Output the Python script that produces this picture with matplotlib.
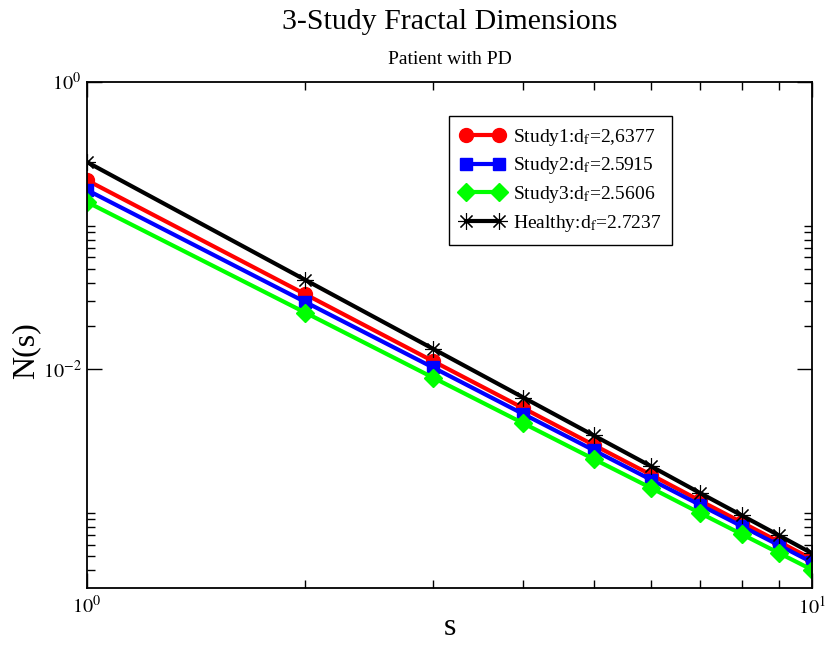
import matplotlib
matplotlib.use("Agg")
import matplotlib.pyplot as plt
from matplotlib.ticker import FixedLocator, NullFormatter

plt.rcParams['font.family'] = ['Liberation Serif', 'DejaVu Serif']
plt.rcParams['mathtext.fontset'] = 'stix'

# box size s and counts N(s)
s = [1, 2, 3, 4, 5, 6, 7, 8, 9, 10]
study1 = [0.207, 0.0333, 0.0114, 0.00535, 0.00297, 0.00184, 0.00122, 0.000859, 0.00063, 0.000477]
study2 = [0.177, 0.0294, 0.0103, 0.00487, 0.00273, 0.00170, 0.00114, 0.000808, 0.000596, 0.000453]
study3 = [0.146, 0.0248, 0.00876, 0.00420, 0.00237, 0.00149, 0.00100, 0.000711, 0.000526, 0.000402]
healthy = [0.277, 0.0419, 0.0139, 0.00635, 0.00346, 0.00211, 0.00138, 0.000961, 0.000698, 0.000523]

labels = [r"Study1:d$_{\mathrm{f}}$=2,6377",
          r"Study2:d$_{\mathrm{f}}$=2.5915",
          r"Study3:d$_{\mathrm{f}}$=2.5606",
          r"Healthy:d$_{\mathrm{f}}$=2.7237"]

fig = plt.figure(figsize=(8.25, 6.45), dpi=100)
ax = fig.add_axes([87/825, 1-588/645, (812-87)/825, (588-82)/645])

ax.plot(s, study1, color='#ff0000', lw=3, marker='o', ms=10, label=labels[0])
ax.plot(s, study2, color='#0000ff', lw=3, marker='s', ms=9, label=labels[1])
ax.plot(s, study3, color='#00ff00', lw=3, marker='D', ms=9, label=labels[2])
ax.plot(s, healthy, color='black', lw=3, marker=(8, 2, 0), ms=12, mew=0.8, label=labels[3])

ax.set_xscale('log')
ax.set_yscale('log')
ax.set_xlim(1, 10)
ax.set_ylim(3e-4, 1)

# ticks in the style of the original
ax.xaxis.set_major_locator(FixedLocator([1, 10]))
ax.xaxis.set_minor_locator(FixedLocator([2, 3, 4, 5, 6, 7, 8, 9]))
ax.set_xticklabels([r"$10^{0}$", r"$10^{1}$"])
ax.yaxis.set_major_locator(FixedLocator([1e-2, 1]))
ax.set_yticklabels([r"$10^{-2}$", r"$10^{0}$"])
yminor = [k * 1e-2 for k in range(2, 11)] + [k * 1e-4 for k in range(4, 11)]
ax.yaxis.set_minor_locator(FixedLocator(yminor))
ax.xaxis.set_minor_formatter(NullFormatter())
ax.yaxis.set_minor_formatter(NullFormatter())

ax.tick_params(which='both', direction='in', top=True, right=True, labelsize=14.5, width=1)
ax.tick_params(which='major', length=11)
ax.tick_params(axis='y', which='major', pad=4)
ax.tick_params(axis='x', which='major', pad=6)
ax.tick_params(which='minor', length=6)
for sp in ax.spines.values():
    sp.set_linewidth(1.3)

ax.set_xlabel("s", fontsize=23)
ax.xaxis.set_label_coords(0.5, -0.05)
ax.set_ylabel("N(s)", fontsize=23)
ax.yaxis.set_label_coords(-0.064, 0.47)

fig.text(0.545, 1-22/645, "3-Study Fractal Dimensions", ha='center', va='center', fontsize=21.5)
fig.text(0.545, 1-60/645, "Patient with PD", ha='center', va='center', fontsize=14)

leg = ax.legend(loc='upper left', bbox_to_anchor=(449/825, 1-116/645), bbox_transform=fig.transFigure,
                numpoints=2, fontsize=14, fancybox=False, framealpha=1, edgecolor='black',
                handlelength=2.3, handletextpad=0.45, labelspacing=0.4, borderpad=0.55,
                borderaxespad=0)
leg.get_frame().set_linewidth(1)

fig.savefig("out.png", dpi=100)
